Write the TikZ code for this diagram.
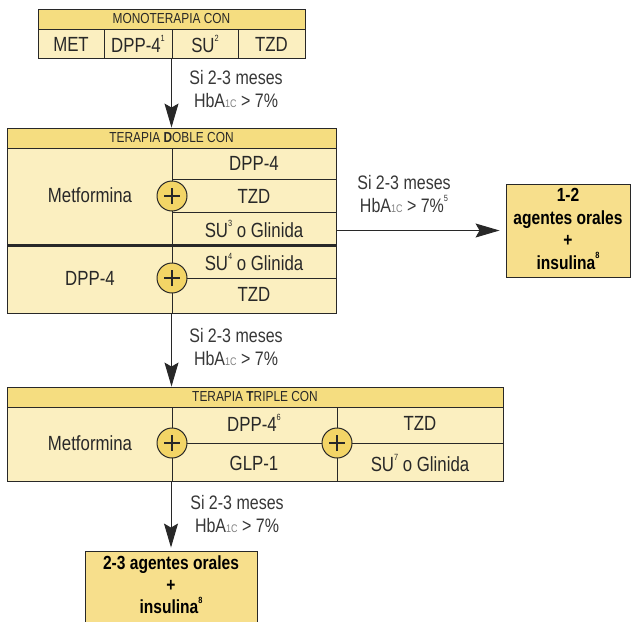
\documentclass[tikz,border=0pt]{standalone}
\usepackage{fontspec}
\setmainfont[FakeStretch=0.82]{Liberation Sans}
\usetikzlibrary{arrows.meta}
\definecolor{hdr}{RGB}{245,221,128}
\definecolor{bodyc}{RGB}{251,239,192}
\definecolor{fin}{RGB}{247,223,140}
\definecolor{circ}{RGB}{243,213,102}
\definecolor{ink}{RGB}{40,40,40}
\definecolor{lbl}{RGB}{55,55,55}
\newcommand\fsz[2]{\fontsize{#1}{#2}\selectfont}
\newcommand\supr[1]{\raisebox{0.55em}{\fsz{9}{9}#1}}
\newcommand\hba{HbA{\color{gray}\fsz{11}{11}1C}}
\begin{document}
\begin{tikzpicture}[x=1pt,y=-1pt,
  box/.style={draw=ink, line width=0.9pt, inner sep=0, fill=bodyc},
  hdrbox/.style={draw=ink, line width=0.9pt, inner sep=0, fill=hdr, text=ink, font=\fsz{14.5}{16}},
  cell/.style={inner sep=0, text=ink, font=\fsz{20.5}{22}},
  lab/.style={align=center, inner sep=0, text=lbl, font=\fsz{19.5}{23}},
  finbox/.style={draw=ink, line width=0.9pt, fill=fin, inner sep=0},
  fintext/.style={align=center, inner sep=0, text=black, font=\bfseries\fsz{19}{22.5}},
  ln/.style={draw=ink, line width=0.9pt},
  arr/.style={draw=ink, line width=1pt, -{Stealth[length=24pt,width=14pt,inset=4pt]}},
  plus/.style={circle, draw=ink, fill=circ, line width=1pt, minimum size=30pt, inner sep=0,
    path picture={\draw[ink, line width=1.8pt]
      ([xshift=-8pt]path picture bounding box.center) -- ([xshift=8pt]path picture bounding box.center)
      ([yshift=-8pt]path picture bounding box.center) -- ([yshift=8pt]path picture bounding box.center);}}
]
\useasboundingbox (0,0) rectangle (631,621);

% ---------- Monoterapia ----------
\node[box, minimum width=267pt, minimum height=49pt] (mono) at (171.5,33.5) {};
\node[hdrbox, minimum width=267pt, minimum height=20pt] (monoh) at (171.5,19) {MONOTERAPIA CON};
\draw[ln] (104,29) -- (104,58) (172,29) -- (172,58) (238,29) -- (238,58);
\node[cell] (met) at (71,44) {MET};
\node[cell] (dpp1) at (138,44) {DPP-4\supr{1}};
\node[cell] (su1) at (205,44) {SU\supr{2}};
\node[cell] (tzd1) at (271.5,44) {TZD};

% ---------- Terapia doble ----------
\node[box, minimum width=329pt, minimum height=185pt] (doble) at (171.5,220.5) {};
\node[hdrbox, minimum width=329pt, minimum height=20pt] (dobleh) at (171.5,138) {TERAPIA {\bfseries D}OBLE CON};
\draw[ln] (172,148) -- (172,313)
  (172,179) -- (336,179) (172,212) -- (336,212) (172,278) -- (336,278);
\draw[draw=ink, line width=3pt] (7,245) -- (336,245);
\node[plus] (p1) at (172,196) {};
\node[plus] (p2) at (172,278) {};
\node[cell] (metf1) at (90,195) {Metformina};
\node[cell] (d2a) at (254,163) {DPP-4};
\node[cell] (d2b) at (254,196) {TZD};
\node[cell] (d2c) at (254,229) {SU\supr{3} o Glinida};
\node[cell] (dpp2) at (90,278) {DPP-4};
\node[cell] (d2d) at (254,262) {SU\supr{4} o Glinida};
\node[cell] (d2e) at (254,294) {TZD};

% ---------- Terapia triple ----------
\node[box, minimum width=496pt, minimum height=94pt] (triple) at (255,434) {};
\node[hdrbox, minimum width=496pt, minimum height=20pt] (tripleh) at (255,397) {TERAPIA {\bfseries T}RIPLE CON};
\draw[ln] (172,407) -- (172,481) (337,407) -- (337,481) (172,443) -- (503,443);
\node[plus] (p3) at (172,443) {};
\node[plus] (p4) at (337,443) {};
\node[cell] (metf3) at (90,443) {Metformina};
\node[cell] (t1) at (254,423) {DPP-4\supr{6}};
\node[cell] (t2) at (254,463) {GLP-1};
\node[cell] (t3) at (420,423) {TZD};
\node[cell] (t4) at (420,463) {SU\supr{7} o Glinida};

% ---------- Final boxes ----------
\node[finbox, minimum width=124pt, minimum height=93pt] (fin1) at (568,230.5) {};
\node[fintext] (fin1t) at (568,229) {1-2\\agentes orales\\+\\insulina\supr{\bfseries 8}};
\node[finbox, minimum width=172pt, minimum height=90pt] (fin2) at (171,596) {};
\node[fintext, anchor=north, font=\bfseries\fsz{19}{22}] (fin2t) at (171,556) {2-3 agentes orales\\+\\insulina\supr{\bfseries 8}};

% ---------- Arrows ----------
\draw[arr] (mono.south) -- (doble.north);
\draw[arr] (doble.south) -- (doble.south |- triple.north);
\draw[arr, shorten >=6pt] (fin1.west -| doble.east) -- (fin1.west);
\draw[arr, shorten >=3pt] (triple.south -| fin2.north) -- (fin2.north);

% ---------- Labels ----------
\node[lab] (l1) at (236,89) {Si 2-3 meses\\\hba\ > 7\%};
\node[lab] (l2) at (404,194) {Si 2-3 meses\\\hba\ > 7\%\supr{5}};
\node[lab] (l3) at (236,347) {Si 2-3 meses\\\hba\ > 7\%};
\node[lab] (l4) at (237,514) {Si 2-3 meses\\\hba\ > 7\%};
\end{tikzpicture}
\end{document}
